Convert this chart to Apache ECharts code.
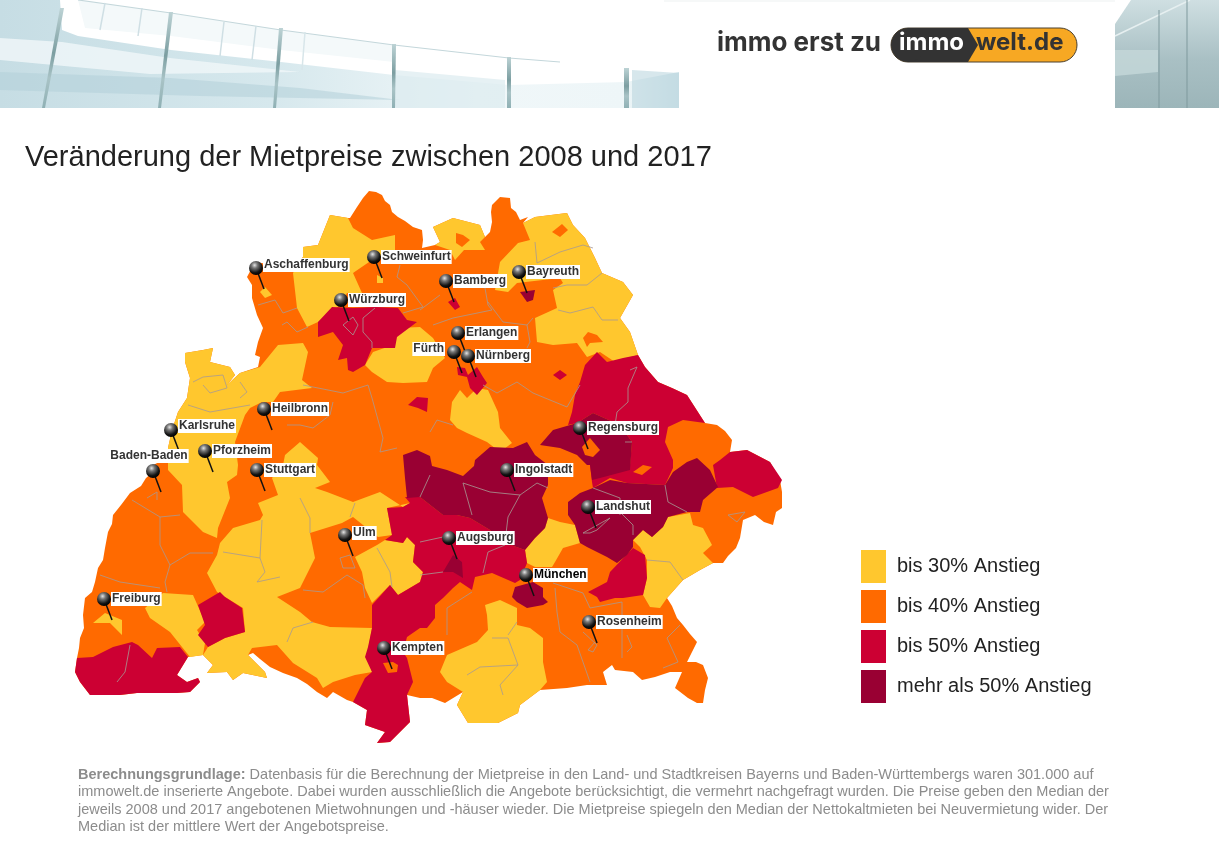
<!DOCTYPE html>
<html>
<head>
<meta charset="utf-8">
<title>Mietpreise</title>
<script src="https://cdn.jsdelivr.net/npm/echarts@6/dist/echarts.min.js"></script>
<style>
  html, body { margin: 0; padding: 0; background: #fff; }
  #chart { width: 1219px; height: 850px; }
</style>
</head>
<body>
<div id="chart"></div>
<script>
// legend tiers
let tierLabels = ['bis 30% Anstieg', 'bis 40% Anstieg', 'bis 50% Anstieg', 'mehr als 50% Anstieg'];
let tierValues = [30, 40, 50, 60];
let tierColors = ['#ffc72e', '#ff6a00', '#cc0033', '#990033'];

// areas, painted in this order (the first one is the whole outline)
let areaNames = [
  'Gesamtgebiet', 'Rhön-Spessart', 'Schweinfurt Stadt', 'Aschaffenburg Stadt', 'Neustadt-Kitzingen',
  'Rhein-Neckar-Odenwald', 'Stuttgart Umland-Oberschwaben', 'Breisgau-Schwarzwald', 'Freiburg Stadt',
  'Günzburg-Neu-Ulm', 'Coburg-Lichtenfels', 'Oberfranken-Nordoberpfalz', 'Roth-Weißenburg', 'Pfaffenhofen-Freising',
  'Altötting-Rottal', 'Oberland', 'Würzburg', 'Ansbach', 'Bamberg Stadt', 'Nürnberg-Fürth', 'Amberg Stadt',
  'Oberpfalz-Bayerwald', 'Freyung', 'Erding-Ebersberg', 'Schwaben-Allgäu', 'Hochrhein', 'Tuttlingen',
  'Bayreuth Stadt', 'Regensburg', 'Straubing-Landshut', 'Donau-Altmühl', 'München', 'Augsburg Stadt',
  'Coburg Stadt', 'Hof Stadt', 'Weiden Stadt', 'Regensburg Stadt', 'Straubing Stadt', 'Kempten Stadt'
];
let areaTiers = [
  40, 30, 30, 30, 30,
  30, 30, 30, 30,
  30, 30, 30, 30, 30,
  30, 30, 50, 50, 50, 50, 50,
  50, 50, 50, 50, 50, 50,
  60, 60, 60, 60, 60, 60,
  40, 40, 40, 40, 40, 40
];
let areaOutlines = [
  [[369,191],[376,192],[382,195],[385,201],[390,205],[392,212],[398,217],[405,221],[413,227],[422,230],[423,240],[422,248],[435,245],[440,242],[433,227],[453,218],[480,225],[485,237],[490,232],[492,222],[491,212],[492,205],[500,197],[510,198],[511,208],[516,212],[520,220],[528,217],[523,223],[535,217],[567,213],[573,225],[585,238],[595,258],[602,273],[623,282],[633,295],[620,318],[630,332],[638,355],[645,367],[658,382],[672,388],[687,395],[705,423],[717,425],[725,431],[732,440],[730,452],[747,450],[770,462],[780,480],[782,492],[782,508],[776,512],[773,525],[764,522],[755,515],[743,520],[740,538],[736,548],[728,556],[723,563],[713,563],[700,570],[683,580],[667,598],[672,606],[677,618],[683,625],[690,634],[697,642],[692,652],[687,662],[696,662],[703,665],[708,678],[705,690],[703,703],[697,703],[688,698],[675,688],[682,672],[670,672],[655,677],[642,680],[633,672],[615,670],[612,665],[603,672],[607,685],[587,685],[567,688],[540,690],[520,705],[518,713],[498,723],[485,723],[468,723],[457,705],[463,692],[445,703],[432,698],[420,698],[407,695],[410,722],[390,742],[377,743],[385,732],[365,725],[367,710],[353,702],[347,700],[333,692],[327,698],[317,692],[307,684],[297,678],[283,673],[270,667],[260,659],[253,653],[248,655],[265,672],[267,678],[243,673],[233,680],[227,672],[207,673],[213,665],[203,655],[188,657],[177,675],[187,682],[198,678],[200,682],[190,692],[177,693],[137,693],[120,695],[90,695],[80,682],[75,672],[77,658],[79,648],[80,638],[84,628],[83,615],[85,598],[92,592],[95,582],[98,568],[103,560],[105,548],[108,532],[112,524],[113,515],[121,505],[130,493],[141,486],[146,478],[153,472],[153,465],[168,458],[168,448],[172,430],[178,412],[187,398],[190,378],[185,362],[185,353],[203,350],[213,348],[210,362],[230,367],[235,375],[227,385],[240,373],[258,367],[260,357],[255,355],[258,342],[263,328],[257,315],[252,298],[252,285],[247,277],[255,262],[293,268],[303,257],[303,247],[318,245],[330,215],[348,218],[350,218],[357,207],[363,198]],
  [[330,215],[348,218],[353,228],[372,240],[395,235],[395,250],[372,260],[353,273],[362,293],[347,293],[340,305],[318,322],[307,327],[297,308],[293,273],[303,257],[303,247],[318,245]],
  [[377,275],[383,278],[383,283],[377,283]],
  [[260,292],[265,287],[272,295],[265,298]],
  [[365,365],[373,352],[393,345],[398,328],[420,327],[433,338],[445,358],[433,368],[427,382],[403,383],[387,382],[372,372]],
  [[185,353],[203,350],[213,348],[210,362],[230,367],[235,375],[227,385],[240,373],[260,367],[278,345],[303,343],[308,352],[302,380],[312,388],[280,392],[273,402],[262,402],[250,408],[245,415],[235,442],[238,465],[237,475],[227,482],[230,498],[218,528],[217,538],[203,532],[183,512],[182,485],[168,470],[168,458],[168,448],[172,430],[178,412],[187,398],[190,378],[185,362]],
  [[258,503],[278,495],[272,478],[283,465],[285,455],[300,442],[318,458],[317,465],[330,482],[315,488],[327,492],[353,502],[380,492],[403,507],[410,503],[387,508],[392,535],[378,537],[353,517],[342,523],[310,533],[315,558],[300,588],[277,597],[300,612],[312,622],[330,627],[372,628],[367,655],[372,672],[355,675],[333,682],[323,688],[317,678],[293,663],[277,645],[252,648],[248,655],[265,672],[267,678],[243,673],[233,680],[227,672],[207,673],[213,665],[203,655],[208,647],[225,638],[245,632],[243,608],[217,592],[207,573],[217,555],[220,543],[233,528],[260,520],[263,515]],
  [[145,608],[163,593],[193,595],[205,622],[197,630],[205,643],[203,655],[190,657],[170,632],[150,618]],
  [[93,623],[105,613],[122,620],[122,635],[110,623]],
  [[355,557],[377,545],[385,540],[403,543],[407,537],[415,545],[413,562],[423,572],[420,582],[398,595],[390,585],[372,603],[365,588],[362,572]],
  [[433,227],[453,218],[480,225],[485,237],[480,242],[485,250],[464,250],[455,260],[450,250],[435,245],[440,242]],
  [[523,223],[535,217],[567,213],[573,225],[585,238],[595,258],[602,273],[623,282],[633,295],[620,318],[630,332],[638,355],[627,358],[615,362],[600,352],[587,357],[577,343],[553,345],[537,342],[535,318],[557,308],[553,290],[563,283],[560,278],[517,283],[508,292],[495,290],[500,262],[518,243],[530,240]],
  [[452,402],[460,390],[467,398],[477,388],[488,390],[498,412],[500,428],[512,443],[500,452],[487,442],[467,433],[457,428],[450,420]],
  [[525,550],[535,538],[545,528],[548,518],[560,522],[575,525],[580,543],[563,548],[555,562],[552,567],[535,567],[527,563]],
  [[633,540],[643,530],[652,537],[663,527],[668,517],[690,513],[693,525],[703,528],[712,545],[703,553],[713,563],[700,570],[683,580],[667,598],[660,608],[650,607],[643,595],[647,578],[647,560],[640,547]],
  [[485,605],[500,600],[517,608],[517,625],[530,628],[543,638],[543,662],[547,682],[540,690],[520,705],[518,713],[498,723],[485,723],[468,723],[457,705],[463,692],[447,682],[440,672],[447,655],[477,642],[488,630],[487,615]],
  [[318,322],[332,307],[353,308],[375,307],[398,308],[407,320],[417,322],[397,337],[395,348],[372,348],[365,365],[353,372],[348,370],[347,358],[338,360],[343,345],[333,332],[318,337]],
  [[408,405],[417,397],[428,398],[427,412],[418,408]],
  [[448,302],[455,298],[460,307],[455,310]],
  [[457,367],[465,368],[468,375],[477,367],[483,377],[487,383],[477,395],[470,388],[467,377],[458,375]],
  [[553,375],[560,370],[567,375],[560,380]],
  [[585,365],[597,352],[607,362],[623,358],[638,355],[645,367],[658,382],[672,388],[687,395],[705,423],[683,420],[668,427],[665,442],[673,460],[673,468],[665,485],[627,483],[610,478],[593,488],[592,482],[590,465],[630,465],[632,442],[620,425],[593,413],[577,423],[568,425],[572,412],[575,395],[580,382]],
  [[713,465],[717,488],[733,487],[753,497],[778,488],[782,480],[770,462],[747,450],[730,452],[720,460]],
  [[588,592],[607,582],[610,572],[633,548],[645,555],[647,578],[643,595],[623,598],[615,598],[600,602],[597,597]],
  [[365,657],[368,647],[372,628],[372,605],[390,585],[398,595],[420,582],[423,572],[413,562],[415,545],[407,537],[403,543],[385,540],[392,535],[387,508],[403,507],[410,503],[405,497],[420,497],[443,515],[457,515],[470,518],[490,530],[505,543],[525,550],[527,563],[520,580],[515,583],[492,573],[475,577],[472,590],[460,582],[453,588],[443,598],[435,605],[435,618],[427,628],[420,628],[407,637],[403,652],[407,658],[413,682],[407,695],[410,722],[390,742],[377,743],[385,732],[365,725],[367,710],[353,702],[365,678],[372,672]],
  [[77,658],[93,657],[113,647],[132,642],[138,645],[152,658],[157,648],[180,647],[188,657],[177,675],[187,682],[198,678],[200,682],[190,692],[177,693],[137,693],[120,695],[90,695],[80,682],[75,672]],
  [[198,605],[220,592],[225,597],[242,608],[245,632],[225,638],[208,647],[198,635],[205,625]],
  [[520,292],[535,290],[533,300],[527,302]],
  [[540,445],[553,430],[577,423],[593,413],[620,425],[632,442],[630,470],[600,478],[592,480],[590,465],[587,465],[577,455],[560,448]],
  [[568,502],[580,493],[593,488],[610,480],[627,483],[665,485],[673,472],[687,462],[697,458],[710,470],[718,487],[703,500],[700,512],[687,512],[668,517],[663,527],[652,537],[643,530],[633,540],[633,547],[627,555],[617,563],[607,557],[587,547],[580,543],[575,525],[568,515]],
  [[403,455],[417,450],[430,456],[432,466],[447,470],[463,476],[474,466],[475,460],[490,447],[513,448],[527,442],[535,455],[548,465],[548,485],[542,498],[548,518],[545,528],[535,538],[525,550],[505,543],[490,530],[470,518],[457,515],[443,515],[420,497],[407,498],[405,478]],
  [[512,597],[515,587],[533,582],[543,588],[543,597],[548,602],[543,605],[527,608],[517,602]],
  [[443,572],[453,555],[462,562],[463,578],[453,572]],
  [[456,233],[463,235],[470,240],[462,247],[456,243]],
  [[552,232],[562,224],[568,230],[560,237]],
  [[583,338],[588,332],[597,335],[603,342],[590,343],[587,347]],
  [[582,447],[590,438],[600,450],[593,457],[585,455]],
  [[633,472],[643,465],[652,467],[642,475]],
  [[383,663],[393,662],[398,665],[397,672],[388,673]]
];

// thin grey district borders inside the areas
let borderLines = [
  [[258,305],[275,300],[283,313],[297,308]], [[282,325],[287,322],[297,332],[308,327]], [[303,385],[343,393],[368,385],[372,398],[383,438],[380,452],[397,448]],
  [[287,425],[300,425],[313,428],[330,415],[333,402]], [[193,382],[203,377],[223,375],[227,388],[210,393],[203,385]], [[240,382],[247,392],[240,398]],
  [[188,405],[210,412],[250,405]], [[343,325],[353,317],[358,325],[353,335],[343,325]], [[363,332],[363,318],[375,308]], [[363,332],[372,342],[372,348]],
  [[400,265],[397,277],[407,285],[423,307],[403,313]], [[420,310],[440,295]], [[485,288],[488,305],[492,310],[453,318],[433,325]], [[488,302],[503,322],[527,325],[533,318]],
  [[527,325],[530,342],[527,348]], [[483,385],[497,393],[517,382],[533,393],[567,407],[580,385]], [[430,432],[437,420],[453,425]], [[535,242],[537,263],[560,252],[583,245],[593,248]],
  [[553,288],[567,285],[587,285],[602,273]], [[558,310],[570,313],[593,307],[602,320],[618,320]], [[630,370],[637,367],[628,388],[628,402],[617,412],[615,425]], [[632,442],[625,442]],
  [[132,500],[160,517],[180,515]], [[160,517],[160,545],[170,565],[165,582],[167,592]], [[170,565],[190,553],[213,553]], [[100,575],[120,582],[160,588]],
  [[262,520],[260,558],[223,552]], [[260,558],[265,572],[257,582],[280,577]], [[300,498],[310,518],[310,533]], [[355,503],[350,517]], [[287,642],[293,628],[313,622]],
  [[130,645],[125,672],[117,682]], [[303,590],[323,592],[347,575],[363,585],[365,598]], [[377,548],[390,572],[392,587]], [[340,558],[350,555],[355,568],[343,568],[340,558]],
  [[147,498],[157,492],[157,500]], [[420,542],[443,537]], [[463,483],[472,515]], [[463,483],[490,492],[520,495],[537,483],[548,488]], [[508,517],[520,495]], [[508,517],[505,542]],
  [[420,497],[430,475]], [[483,573],[488,552],[505,545]], [[472,592],[447,608],[447,635]], [[583,533],[610,518],[597,530],[590,533],[583,533]], [[620,512],[633,525],[633,535]],
  [[665,485],[668,502],[687,512]], [[593,488],[620,498],[620,515]], [[728,515],[745,512],[737,522],[728,515]], [[647,560],[670,562],[683,580]], [[555,588],[557,612],[560,632],[577,645],[590,682]],
  [[553,583],[583,593],[590,608],[622,602],[622,658]], [[583,632],[597,645],[593,652],[588,650],[595,642]], [[627,635],[632,647],[627,652]], [[667,638],[680,625]], [[667,638],[678,662],[663,668]],
  [[492,638],[508,638],[518,665],[480,667],[467,675]], [[518,665],[500,685],[503,695]], [[517,622],[508,635]], [[443,572],[420,575]]
];

// city pins
let cityNames = ['Aschaffenburg', 'Schweinfurt', 'Würzburg', 'Bamberg', 'Bayreuth', 'Erlangen', 'Fürth', 'Nürnberg', 'Heilbronn', 'Karlsruhe', 'Pforzheim', 'Baden-Baden', 'Stuttgart', 'Regensburg', 'Ingolstadt', 'Landshut', 'Ulm', 'Augsburg', 'München', 'Freiburg', 'Rosenheim', 'Kempten'];
let cityPoints = [[256,268],[374,257],[341,300],[446,281],[519,272],[458,333],[454,352],[468,356],[264,409],[171,430],[205,451],[153,471],[257,470],[580,428],[507,470],[588,507],[345,535],[449,538],[526,575],[104,599],[589,622],[384,648]];

let noteLines = [
  'Datenbasis für die Berechnung der Mietpreise in den Land- und Stadtkreisen Bayerns und Baden-Württembergs waren 301.000 auf',
  'immowelt.de inserierte Angebote. Dabei wurden ausschließlich die Angebote berücksichtigt, die vermehrt nachgefragt wurden. Die Preise geben den Median der',
  'jeweils 2008 und 2017 angebotenen Mietwohnungen und -häuser wieder. Die Mietpreise spiegeln den Median der Nettokaltmieten bei Neuvermietung wider. Der',
  'Median ist der mittlere Wert der Angebotspreise.'
];

let arial = '"Liberation Sans", Arial, sans-serif';

let mapJson = {
  type: 'FeatureCollection',
  features: areaNames.map(function (name, i) {
    let ring = areaOutlines[i].concat([areaOutlines[i][0]]);
    return { type: 'Feature', properties: { name: name }, geometry: { type: 'Polygon', coordinates: [ring] } };
  })
};
echarts.registerMap('mietpreise', mapJson);

// the map coordinates are page pixels, so the box is simply the outline's extent
let xs = areaOutlines[0].map(function (p) { return p[0]; });
let ys = areaOutlines[0].map(function (p) { return p[1]; });
let box = {
  left: Math.min.apply(null, xs),
  top: Math.min.apply(null, ys),
  width: Math.max.apply(null, xs) - Math.min.apply(null, xs),
  height: Math.max.apply(null, ys) - Math.min.apply(null, ys)
};
let flat = {
  project: function (p) { return [p[0], p[1]]; },
  unproject: function (p) { return [p[0], p[1]]; }
};

let LG = echarts.graphic.LinearGradient;
let beams = [
  [[60,8],[64,8],[45,108],[42,108]],
  [[169,12],[173,12],[161,108],[158,108]],
  [[279,28],[283,28],[276,108],[273,108]],
  [[392,44],[396,44],[395,108],[392,108]],
  [[507,57],[511,57],[511,108],[507,108]],
  [[624,68],[629,68],[629,108],[624,108]]
];
let bannerGraphics = [
  { type: 'rect', shape: { x: 0, y: 0, width: 679, height: 108 }, style: { fill: '#ffffff' } },
  { type: 'polygon', shape: { points: [[0,0],[60,0],[62,30],[78,36],[171,50],[281,62],[394,75],[509,85],[626,82],[679,72],[679,108],[0,108]] },
    style: { fill: new LG(0, 0, 1, 0, [{ offset: 0, color: '#c6dde4' }, { offset: 0.4, color: '#d6e8ed' }, { offset: 0.7, color: '#f0f7f9' }, { offset: 0.92, color: '#eef6f8' }, { offset: 1, color: '#cfe3e9' }]) } },
  { type: 'polygon', shape: { points: [[78,0],[171,13],[281,30],[394,45],[394,62],[281,50],[171,36],[85,28]] }, style: { fill: '#f4f9fa' } },
  { type: 'polygon', shape: { points: [[0,38],[62,42],[170,58],[300,72],[150,74],[0,60]] }, style: { fill: '#eef6f8', opacity: 0.85 } },
  { type: 'polygon', shape: { points: [[0,72],[170,78],[300,88],[400,100],[200,96],[0,90]] }, style: { fill: '#b2cfd8', opacity: 0.55 } },
  { type: 'polygon', shape: { points: [[395,70],[505,80],[505,108],[395,108]] }, style: { fill: '#dcebef', opacity: 0.7 } },
  { type: 'polygon', shape: { points: [[632,70],[679,73],[679,108],[632,108]] }, style: { fill: '#bcd7df', opacity: 0.6 } },
  { type: 'polyline', shape: { points: [[78,0],[171,13],[281,30],[394,45],[509,58],[560,62]] }, style: { stroke: '#c4d7db', lineWidth: 1.2, fill: null } },
  { type: 'polyline', shape: { points: [[105,3],[100,30]] }, style: { stroke: '#cfdfe4', lineWidth: 1.5, fill: null } },
  { type: 'polyline', shape: { points: [[142,8],[138,36]] }, style: { stroke: '#cfdfe4', lineWidth: 1.5, fill: null } },
  { type: 'polyline', shape: { points: [[224,22],[220,56]] }, style: { stroke: '#cfdfe4', lineWidth: 1.5, fill: null } },
  { type: 'polyline', shape: { points: [[256,26],[252,60]] }, style: { stroke: '#cfdfe4', lineWidth: 1.5, fill: null } },
  { type: 'polyline', shape: { points: [[305,32],[302,70]] }, style: { stroke: '#d8e6ea', lineWidth: 1.5, fill: null } }
].concat(beams.map(function (b) {
  return { type: 'polygon', shape: { points: b }, style: { fill: new LG(0, 0, 0, 1, [{ offset: 0, color: '#bdd3d5' }, { offset: 0.45, color: '#7c9ea1' }, { offset: 0.7, color: '#a9c3c6' }, { offset: 1, color: '#8fb0b4' }]) } };
})).concat([
  { type: 'rect', shape: { x: 1115, y: 0, width: 104, height: 108 }, style: { fill: new LG(0, 0, 0, 1, [{ offset: 0, color: '#cfdfe2' }, { offset: 0.55, color: '#a9c0c4' }, { offset: 1, color: '#9cb5b9' }]) } },
  { type: 'polygon', shape: { points: [[1115,0],[1131,0],[1115,24]] }, style: { fill: '#ffffff' } },
  { type: 'polygon', shape: { points: [[1115,50],[1158,50],[1158,72],[1115,76]] }, style: { fill: '#c6d8da', opacity: 0.8 } },
  { type: 'polyline', shape: { points: [[1115,36],[1190,0]] }, style: { stroke: '#e6eff0', lineWidth: 1.5, fill: null } },
  { type: 'polyline', shape: { points: [[1159,10],[1159,108]] }, style: { stroke: '#7f999d', lineWidth: 1, fill: null } },
  { type: 'polyline', shape: { points: [[1187,0],[1187,108]] }, style: { stroke: '#7f999d', lineWidth: 1, fill: null } },
  { type: 'rect', shape: { x: 664, y: 0, width: 451, height: 2 }, style: { fill: '#f6f8f8' } },
  // logo
  { type: 'text', left: 717, top: 30, style: { text: 'immo erst zu', fill: '#333333', font: 'bold 26px Inter, "Noto Sans", sans-serif' } },
  { type: 'rect', shape: { x: 891, y: 28, width: 186, height: 34, r: 17 }, style: { fill: '#f7a823', stroke: '#4a4030', lineWidth: 1 } },
  { type: 'polygon', shape: { points: [[908,28],[968,28],[978,45],[968,62],[908,62],[891,45]] }, style: { fill: '#333333' } },
  { type: 'circle', shape: { cx: 908, cy: 45, r: 17 }, style: { fill: '#333333' } },
  { type: 'text', left: 899, top: 31, style: { text: 'immo', fill: '#ffffff', font: 'bold 24px Inter, "Noto Sans", sans-serif' } },
  { type: 'text', left: 976, top: 31, style: { text: 'welt.de', fill: '#333333', font: 'bold 24px Inter, "Noto Sans", sans-serif' } }
]);

let myChart = echarts.init(document.getElementById('chart'));
myChart.setOption({
  animation: false,
  backgroundColor: '#ffffff',
  title: [{
    text: 'Veränderung der Mietpreise zwischen 2008 und 2017',
    left: 25,
    top: 143,
    padding: 0,
    textStyle: { fontFamily: arial, fontSize: 29, fontWeight: 'normal', color: '#222222' }
  }, {
    text: '{b|Berechnungsgrundlage:} ' + noteLines.join('\n'),
    left: 78,
    top: 766,
    padding: 0,
    textStyle: {
      fontFamily: arial, fontSize: 14.5, fontWeight: 'normal', color: '#8c8c8c', lineHeight: 17.5,
      rich: { b: { fontFamily: arial, fontSize: 14.5, fontWeight: 'bold', color: '#8c8c8c', lineHeight: 17.5 } }
    }
  }],
  graphic: { elements: bannerGraphics },
  visualMap: {
    type: 'piecewise',
    seriesIndex: 0,
    left: 861,
    top: 550,
    padding: 0,
    orient: 'vertical',
    inverse: true,
    align: 'left',
    itemWidth: 25,
    itemHeight: 33,
    itemGap: 7,
    itemSymbol: 'rect',
    textGap: 11,
    selectedMode: false,
    hoverLink: false,
    showLabel: true,
    textStyle: { fontFamily: arial, fontSize: 20, color: '#222222' },
    pieces: tierValues.map(function (v, i) {
      return { value: v, label: tierLabels[i], color: tierColors[i] };
    })
  },
  geo: Object.assign({
    map: 'mietpreise',
    projection: flat,
    roam: false,
    silent: true,
    label: { show: false },
    itemStyle: { areaColor: 'transparent', borderWidth: 0 }
  }, box),
  series: [Object.assign({
    type: 'map',
    map: 'mietpreise',
    projection: flat,
    roam: false,
    silent: true,
    z: 2,
    label: { show: false },
    itemStyle: { borderWidth: 0 },
    data: areaNames.map(function (name, i) { return { name: name, value: areaTiers[i] }; })
  }, box), {
    type: 'lines',
    coordinateSystem: 'geo',
    polyline: true,
    silent: true,
    z: 3,
    lineStyle: { color: '#a89a94', width: 1, opacity: 0.8 },
    data: borderLines.map(function (l) { return { coords: l }; })
  }, {
    // needles
    type: 'lines',
    coordinateSystem: 'geo',
    silent: true,
    z: 4,
    lineStyle: { color: '#111111', width: 1.5, opacity: 1 },
    data: cityPoints.map(function (p) { return { coords: [p, [p[0] + 8, p[1] + 21]] }; })
  }, {
    type: 'scatter',
    coordinateSystem: 'geo',
    silent: true,
    z: 5,
    symbol: 'circle',
    symbolSize: 14,
    itemStyle: {
      opacity: 1,
      color: new echarts.graphic.RadialGradient(0.4, 0.3, 0.7, [
        { offset: 0, color: '#e4e4e4' }, { offset: 0.3, color: '#777777' }, { offset: 0.75, color: '#151515' }, { offset: 1, color: '#000000' }
      ])
    },
    label: {
      show: true,
      position: 'right',
      distance: 0,
      formatter: '{b}',
      fontFamily: arial,
      fontSize: 12,
      fontWeight: 'bold',
      color: '#333333',
      backgroundColor: '#ffffff',
      padding: [1, 1, 1, 1]
    },
    data: cityNames.map(function (name, i) {
      let item = { name: name, value: cityPoints[i] };
      if (name === 'Fürth') item.label = { position: 'left', distance: 2, offset: [0, -3] };
      if (name === 'Baden-Baden') item.label = { position: 'top', distance: 1, offset: [-4, 0] };
      if (name === 'München') item.label = { color: '#000000' };
      if (name === 'Aschaffenburg') item.label = { offset: [0, -3] };
      if (name === 'Karlsruhe') item.label = { offset: [0, -4] };
      if (name === 'Ulm') item.label = { offset: [0, -2] };
      return item;
    })
  }]
});
</script>
</body>
</html>
